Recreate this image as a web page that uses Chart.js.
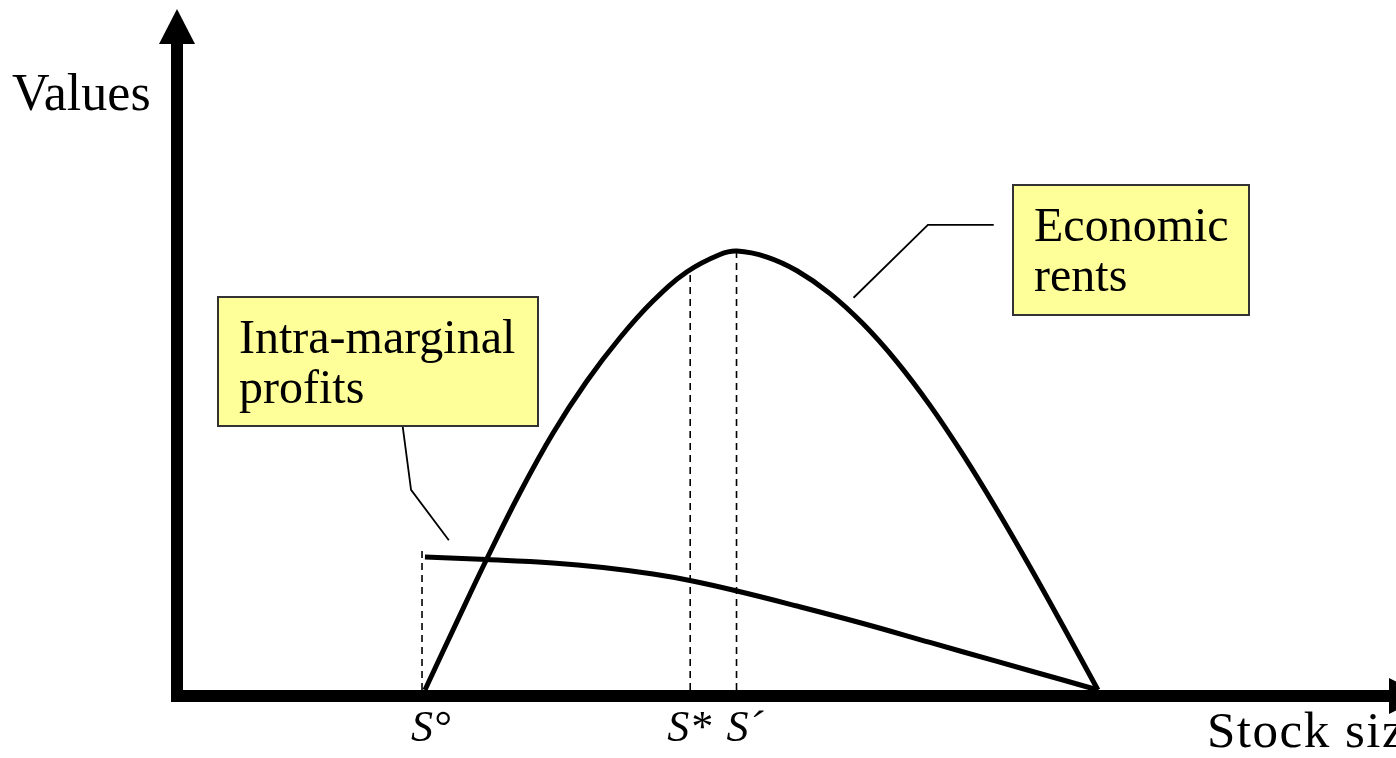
<!DOCTYPE html>
<html>
<head>
<meta charset="utf-8">
<script src="https://cdn.jsdelivr.net/npm/chart.js@4"></script>
<style>
  body { margin: 0; background: #fff; }
  canvas { display: block; }
</style>
</head>
<body>
<canvas id="rentChart" width="1396" height="758"></canvas>
<script>
// economic rents curve (stock size, value)
const rentsX = [20.34, 22.89, 25.43, 28.14, 30.84, 33.63, 36.34, 39.05, 41.84, 44.54, 45.94, 48.40, 50.86, 53.57, 56.28, 59.06, 61.77, 64.48, 67.27, 69.98, 72.68, 75.55];
const rentsY = [0, 9.75, 19.31, 29.00, 37.71, 45.37, 51.73, 57.12, 61.41, 63.95, 64.46, 63.57, 61.56, 58.21, 53.77, 48.19, 41.79, 34.55, 26.43, 18.06, 9.40, 0];

// intra-marginal profits curve
const profitsX = [20.34, 25.43, 30.84, 34.95, 39.05, 42.08, 45.94, 50.86, 56.28, 61.77, 67.27, 72.68, 75.55];
const profitsY = [19.53, 19.16, 18.65, 17.99, 17.03, 16.08, 14.54, 12.33, 9.77, 6.98, 4.19, 1.47, 0];

// marked stock levels and the height of their dashed guides
const stockLabels = ["S°", "S*", "S´"];
const stockLevels = [20.1, 42.1, 45.9];
const guideTops = [20.6, 61.4, 64.4];

// leader lines from the label boxes to the curves
const profitsLeaderX = [18.5, 19.2, 22.3];
const profitsLeaderY = [38.9, 29.4, 22.0];
const rentsLeaderX = [67.0, 61.6, 55.5];
const rentsLeaderY = [68.3, 68.3, 57.6];

const pts = (xs, ys) => xs.map((x, i) => ({ x: x, y: ys[i] }));

const guides = stockLevels.map((s, i) => ({
  data: [{ x: s, y: 0 }, { x: s, y: guideTops[i] }],
  borderColor: "#000",
  borderWidth: 1.6,
  borderDash: [7, 5],
}));

const serif = "'Liberation Serif', 'Times New Roman', serif";

const diagram = {
  id: "diagram",
  afterDatasetsDraw(chart) {
    const ctx = chart.ctx;
    const xs = chart.scales.x;
    const ys = chart.scales.y;
    const x0 = xs.getPixelForValue(0);
    const y0 = ys.getPixelForValue(0);
    ctx.save();
    ctx.fillStyle = "#000";

    // axes with arrow heads
    ctx.fillRect(x0 - 6, 44, 12, y0 + 12 - 44);
    ctx.beginPath();
    ctx.moveTo(x0 - 18, 44);
    ctx.lineTo(x0 + 18, 44);
    ctx.lineTo(x0, 9);
    ctx.fill();
    ctx.fillRect(x0 - 6, y0, 1389 - x0 + 6, 12);
    ctx.beginPath();
    ctx.moveTo(1389, y0 - 12);
    ctx.lineTo(1389, y0 + 24);
    ctx.lineTo(1424, y0 + 6);
    ctx.fill();

    // axis titles
    ctx.font = "52px " + serif;
    ctx.textBaseline = "alphabetic";
    ctx.fillText("Values", 12, 110);
    ctx.font = "51px " + serif;
    ctx.letterSpacing = "1.5px";
    ctx.fillText("Stock size", 1207, 747);
    ctx.letterSpacing = "0px";

    // stock level labels
    const offsets = [-11, -23, -10];
    ctx.font = "italic 44px " + serif;
    stockLabels.forEach((t, i) => {
      ctx.fillText(t, xs.getPixelForValue(stockLevels[i]) + offsets[i], 741);
    });

    // label boxes
    const boxes = [
      { x: 218, y: 297, w: 320, h: 129, lines: ["Intra-marginal", "profits"] },
      { x: 1013, y: 185, w: 236, h: 130, lines: ["Economic", "rents"] },
    ];
    ctx.font = "48px " + serif;
    boxes.forEach(b => {
      ctx.fillStyle = "#ffff99";
      ctx.fillRect(b.x, b.y, b.w, b.h);
      ctx.strokeStyle = "#333";
      ctx.lineWidth = 2;
      ctx.strokeRect(b.x, b.y, b.w, b.h);
      ctx.fillStyle = "#000";
      b.lines.forEach((l, i) => ctx.fillText(l, b.x + 21, b.y + 56 + i * 50));
    });
    ctx.restore();
  },
};

new Chart("rentChart", {
  type: "scatter",
  data: {
    datasets: [
      ...guides,
      {
        data: pts(profitsLeaderX, profitsLeaderY),
        borderColor: "#000",
        borderWidth: 1.8,
      },
      {
        data: pts(rentsLeaderX, rentsLeaderY),
        borderColor: "#000",
        borderWidth: 1.8,
      },
      {
        data: pts(profitsX, profitsY),
        borderColor: "#000",
        borderWidth: 5,
        tension: 0.4,
      },
      {
        data: pts(rentsX, rentsY),
        borderColor: "#000",
        borderWidth: 5,
        tension: 0.4,
      },
    ],
  },
  options: {
    responsive: false,
    animation: false,
    devicePixelRatio: 1,
    showLine: true,
    clip: false,
    elements: { point: { radius: 0, hoverRadius: 0 } },
    layout: { padding: { left: 177, right: 0, top: 9, bottom: 68 } },
    scales: {
      x: { type: "linear", min: 0, max: 100, display: false },
      y: { type: "linear", min: 0, max: 100, display: false },
    },
    plugins: {
      legend: { display: false },
      tooltip: { enabled: false },
    },
  },
  plugins: [diagram],
});
</script>
</body>
</html>
